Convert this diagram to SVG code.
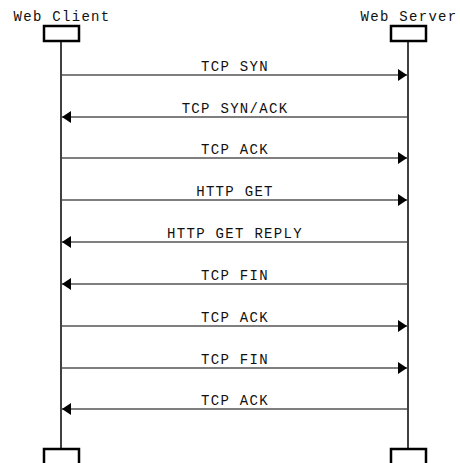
<svg xmlns="http://www.w3.org/2000/svg" width="460" height="463" viewBox="0 0 460 463">
<style>
text{font-family:"Liberation Mono","Courier New",monospace;font-size:14px;letter-spacing:1.3px;fill:#111;text-anchor:middle}
.box{fill:#fff;stroke:#000;stroke-width:2.5}
.life{stroke:#000;stroke-width:1.5}
.msg{stroke:#000;stroke-width:1.2;fill:none}
</style>
<defs>
<marker id="ah" markerWidth="9" markerHeight="12" refX="9" refY="6" orient="auto" markerUnits="userSpaceOnUse">
<path d="M0,0 L9,6 L0,12 Z" fill="#000"/>
</marker>
</defs>
<rect width="460" height="463" fill="#fff"/>
<g id="client">
<text x="62" y="21">Web Client</text>
<line class="life" x1="61" y1="41" x2="61" y2="449"/>
<rect class="box" x="44" y="26" width="35" height="15"/>
<rect class="box" x="44" y="449" width="35" height="16"/>
</g>
<g id="server">
<text x="409" y="21">Web Server</text>
<line class="life" x1="408" y1="41" x2="408" y2="449"/>
<rect class="box" x="391" y="26" width="35" height="15"/>
<rect class="box" x="391" y="449" width="35" height="16"/>
</g>
<g id="connectors">
<line class="msg" x1="62" y1="75" x2="407" y2="75" marker-end="url(#ah)"/>
<text x="235" y="71">TCP SYN</text>
<line class="msg" x1="407" y1="117" x2="62" y2="117" marker-end="url(#ah)"/>
<text x="235" y="113">TCP SYN/ACK</text>
<line class="msg" x1="62" y1="158" x2="407" y2="158" marker-end="url(#ah)"/>
<text x="235" y="154">TCP ACK</text>
<line class="msg" x1="62" y1="200" x2="407" y2="200" marker-end="url(#ah)"/>
<text x="235" y="196">HTTP GET</text>
<line class="msg" x1="407" y1="242" x2="62" y2="242" marker-end="url(#ah)"/>
<text x="235" y="238">HTTP GET REPLY</text>
<line class="msg" x1="407" y1="284" x2="62" y2="284" marker-end="url(#ah)"/>
<text x="235" y="280">TCP FIN</text>
<line class="msg" x1="62" y1="326" x2="407" y2="326" marker-end="url(#ah)"/>
<text x="235" y="322">TCP ACK</text>
<line class="msg" x1="62" y1="368" x2="407" y2="368" marker-end="url(#ah)"/>
<text x="235" y="364">TCP FIN</text>
<line class="msg" x1="407" y1="409" x2="62" y2="409" marker-end="url(#ah)"/>
<text x="235" y="405">TCP ACK</text>
</g>
</svg>
